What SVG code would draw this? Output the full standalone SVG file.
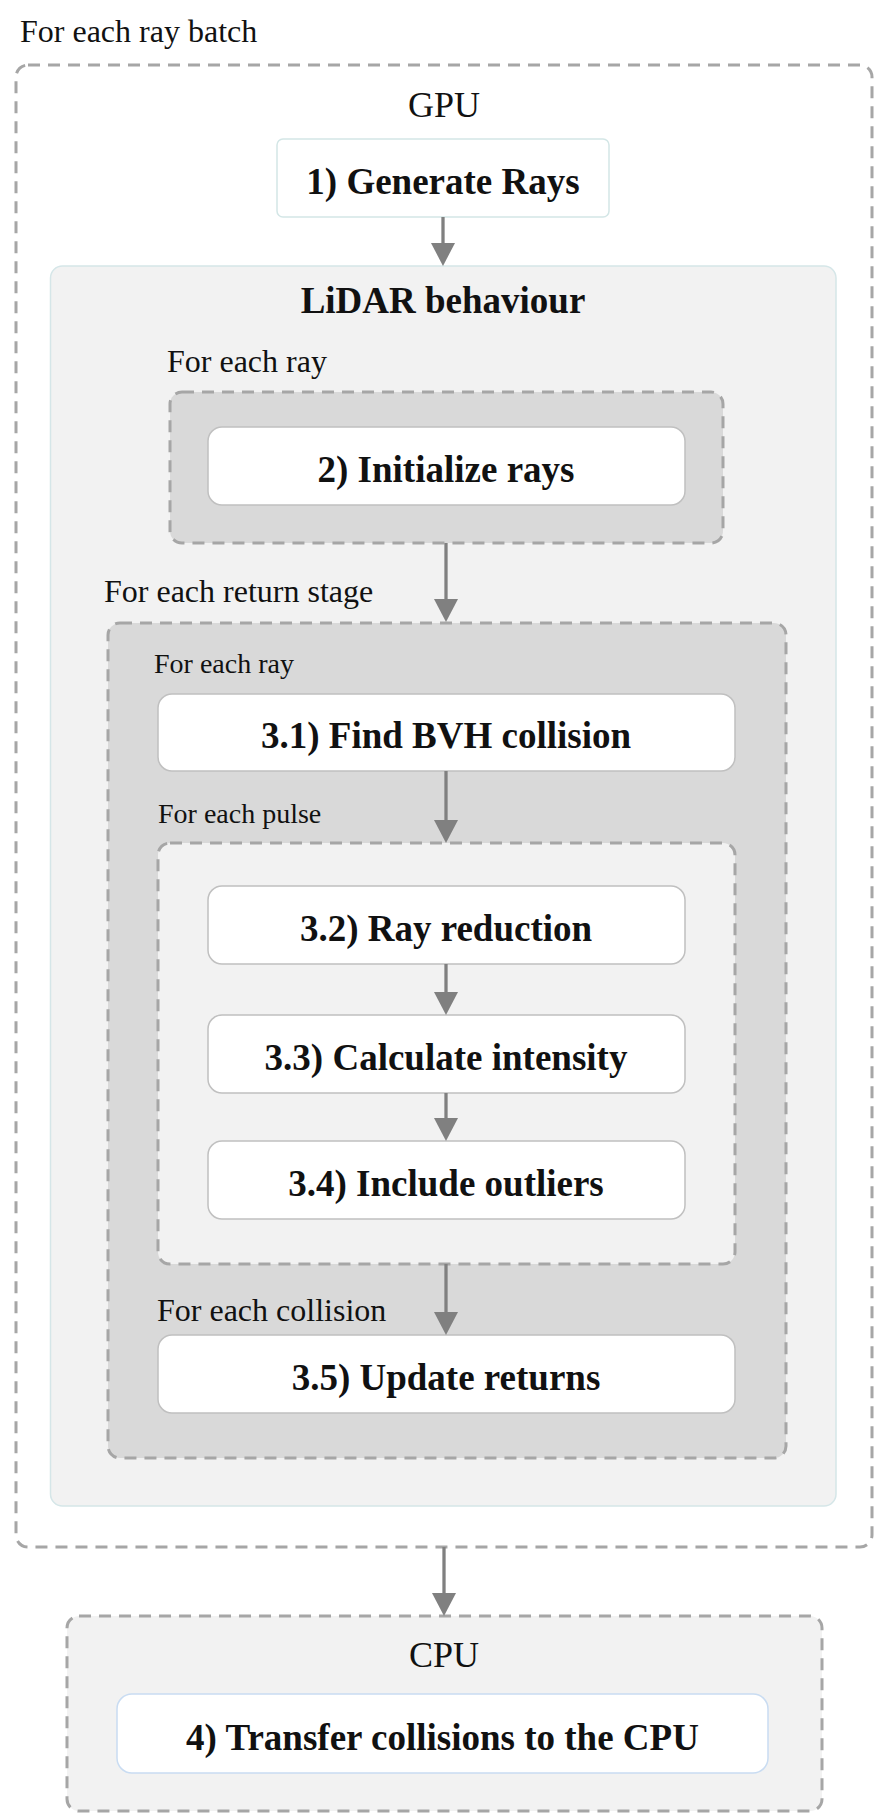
<svg xmlns="http://www.w3.org/2000/svg" width="876" height="1816" viewBox="0 0 876 1816">
<defs>
<marker id="ah" viewBox="0 0 23 24" refX="3" refY="12" markerWidth="23" markerHeight="24" markerUnits="userSpaceOnUse" orient="auto">
<path d="M0,0 L23,12 L0,24 z" fill="#808080"/>
</marker>
<style>
.lbl{font-family:"Liberation Serif","DejaVu Serif",serif;font-size:32px;fill:#111;}
.lbls{font-family:"Liberation Serif","DejaVu Serif",serif;font-size:28px;fill:#111;}
.ttl{font-family:"Liberation Serif","DejaVu Serif",serif;font-size:36px;fill:#111;text-anchor:middle;}
.nt{font-family:"Liberation Serif","DejaVu Serif",serif;font-size:37px;font-weight:bold;fill:#111;text-anchor:middle;}
.dash{stroke:#a6a6a6;stroke-width:3;stroke-dasharray:12 8;}
.node{fill:#ffffff;stroke:#c0c0c0;stroke-width:1.5;}
.conn line{stroke:#808080;stroke-width:3.3;marker-end:url(#ah);}
</style>
</defs>
<rect width="876" height="1816" fill="#ffffff"/>

<g id="ray-batch">
<rect x="16" y="65" width="856" height="1482" rx="12" fill="none" class="dash"/>
<text class="lbl" x="20" y="42">For each ray batch</text>
<text class="ttl" x="444" y="117">GPU</text>
</g>

<g id="generate-rays">
<rect x="277" y="139" width="332" height="78" rx="6" fill="#ffffff" stroke="#d3e6e6" stroke-width="1.5"/>
<text class="nt" x="443" y="194">1) Generate Rays</text>
</g>

<g id="lidar">
<rect x="50.5" y="266" width="785.5" height="1240" rx="12" fill="#f2f2f2" stroke="#d5e6e8" stroke-width="1.5"/>
<text class="nt" x="443" y="313">LiDAR behaviour</text>
</g>

<g id="each-ray-1">
<text class="lbl" x="167" y="372">For each ray</text>
<rect x="170" y="392" width="553" height="151" rx="12" fill="#d9d9d9" class="dash"/>
</g>

<g id="initialize-rays">
<rect x="208" y="427" width="477" height="78" rx="14" class="node"/>
<text class="nt" x="446" y="482">2) Initialize rays</text>
</g>

<g id="return-stage">
<text class="lbl" x="104" y="602">For each return stage</text>
<rect x="108" y="623" width="678" height="835" rx="12" fill="#d9d9d9" class="dash"/>
<text class="lbls" x="154" y="673">For each ray</text>
</g>

<g id="find-bvh">
<rect x="158" y="694" width="577" height="77" rx="14" class="node"/>
<text class="nt" x="446" y="748">3.1) Find BVH collision</text>
</g>

<g id="each-pulse">
<text class="lbls" x="158" y="823">For each pulse</text>
<rect x="158" y="843" width="577" height="421" rx="12" fill="#f2f2f2" class="dash"/>
</g>

<g id="ray-reduction">
<rect x="208" y="886" width="477" height="78" rx="14" class="node"/>
<text class="nt" x="446" y="941">3.2) Ray reduction</text>
</g>

<g id="calc-intensity">
<rect x="208" y="1015" width="477" height="78" rx="14" class="node"/>
<text class="nt" x="446" y="1070">3.3) Calculate intensity</text>
</g>

<g id="include-outliers">
<rect x="208" y="1141" width="477" height="78" rx="14" class="node"/>
<text class="nt" x="446" y="1196">3.4) Include outliers</text>
</g>

<g id="each-collision">
<text class="lbl" x="157" y="1321">For each collision</text>
</g>

<g id="update-returns">
<rect x="158" y="1335" width="577" height="78" rx="14" class="node"/>
<text class="nt" x="446" y="1390">3.5) Update returns</text>
</g>

<g id="cpu">
<rect x="67" y="1616" width="755" height="195" rx="12" fill="#f2f2f2" class="dash"/>
<text class="ttl" x="444" y="1667">CPU</text>
</g>

<g id="transfer">
<rect x="117" y="1694" width="651" height="79" rx="15" fill="#ffffff" stroke="#c9dcf2" stroke-width="1.5"/>
<text class="nt" x="442.5" y="1750">4) Transfer collisions to the CPU</text>
</g>

<g id="connectors" class="conn">
<line x1="443" y1="217" x2="443" y2="246"/>
<line x1="446" y1="543" x2="446" y2="602"/>
<line x1="446" y1="771" x2="446" y2="823"/>
<line x1="446" y1="964" x2="446" y2="995"/>
<line x1="446" y1="1093" x2="446" y2="1121"/>
<line x1="446" y1="1264" x2="446" y2="1315"/>
<line x1="444" y1="1547" x2="444" y2="1596"/>
</g>
</svg>
